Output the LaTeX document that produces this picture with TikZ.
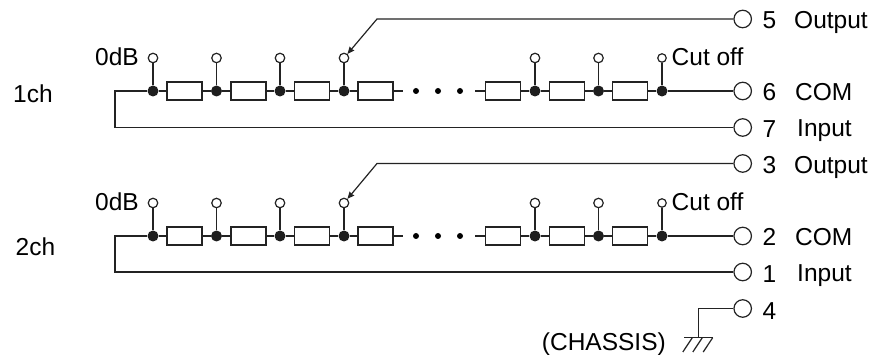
\documentclass[tikz,border=0pt]{standalone}
\usepackage{fontspec}
\setmainfont{Liberation Sans}
\usetikzlibrary{arrows.meta,calc}
\definecolor{wiregray}{RGB}{35,35,35}
\definecolor{jointdark}{RGB}{30,30,30}

\begin{document}
\begin{tikzpicture}[x=1pt, y=-1pt, >=Stealth,
    wire/.style={wiregray, line width=1.2pt},
    resbox/.style={draw=wiregray, line width=1.2pt, fill=white, rectangle, minimum width=35pt, minimum height=18pt, inner sep=0pt},
    joint/.style={circle, fill=jointdark, minimum size=11pt, inner sep=0pt},
    tapnode/.style={circle, draw=wiregray, line width=1.2pt, fill=white, minimum size=9.5pt, inner sep=0pt},
    endtap/.style={tapnode, minimum size=8.5pt},
    dotnode/.style={circle, fill=black, minimum size=6pt, inner sep=0pt},
    terminal/.style={circle, draw=wiregray, line width=1.2pt, fill=white, minimum size=17.5pt, inner sep=0pt},
    lbl/.style={anchor=base west, inner sep=0pt, font=\fontsize{24.5}{28}\selectfont}
]
    \useasboundingbox (0,0) rectangle (875,355);

    % Two channels, same ladder
    \foreach \ch/\yo/\yl/\yr/\no/\nc/\ni/\name/\namex/\namey in {a/19/91/127.5/5/6/7/1ch/13/102.7, b/163.5/236/272/3/2/1/2ch/15.5/256} {
        % Terminals
        \node[terminal] (out\ch) at (742.7,\yo) {};
        \node[terminal] (com\ch) at (742.7,\yl) {};
        \node[terminal] (in\ch) at (742.7,\yr) {};
        \coordinate (bend\ch) at (377,\yo);
        \coordinate (corner\ch) at (115,\yl);
        \coordinate (lower\ch) at (115,\yr);
        \coordinate (stubl\ch) at (403,\yl);
        \coordinate (stubr\ch) at (475,\yl);

        % Joints and taps
        \foreach \i/\x in {1/153, 2/216.5, 3/280, 4/344, 5/535, 6/598.5, 7/662} {
            \ifnum\i=7
                \node[endtap] (tap\ch\i) at (\x,\yl-33) {};
            \else
                \node[tapnode] (tap\ch\i) at (\x,\yl-33) {};
            \fi
            \node[joint] (j\ch\i) at (\x,\yl) {};
            \draw[wire] (j\ch\i) -- (tap\ch\i);
        }

        % Resistors
        \foreach \i/\x in {1/184.5, 2/248.5, 3/312, 4/375.5, 5/503, 6/567, 7/630} {
            \node[resbox] (r\ch\i) at (\x,\yl) {};
        }
        \foreach \i/\x in {1/416, 2/438, 3/460} {
            \node[dotnode] (dot\ch\i) at (\x,\yl) {};
        }

        % Wires
        \draw[wire] (j\ch1) -- (r\ch1) (r\ch1) -- (j\ch2) (j\ch2) -- (r\ch2) (r\ch2) -- (j\ch3) (j\ch3) -- (r\ch3) (r\ch3) -- (j\ch4) (j\ch4) -- (r\ch4);
        \draw[wire] (r\ch4) -- (stubl\ch);
        \draw[wire] (stubr\ch) -- (r\ch5);
        \draw[wire] (r\ch5) -- (j\ch5) (j\ch5) -- (r\ch6) (r\ch6) -- (j\ch6) (j\ch6) -- (r\ch7) (r\ch7) -- (j\ch7) (j\ch7) -- (com\ch);
        \draw[wire] (j\ch1) -- (corner\ch) -- (lower\ch) -- (in\ch);
        \draw[wire, -{Stealth[length=7pt,width=6pt,inset=0.5pt]}] (out\ch) -- (bend\ch) -- (tap\ch4);

        % Labels
        \node[lbl] (zero\ch) at (95,\yl-25.2) {0dB};
        \node[lbl] (cut\ch) at (671.5,\yl-25.2) {Cut off};
        \node[lbl] (chname\ch) at (\namex,\namey) {\name};
        \node[lbl] (nout\ch) at (762.5,\yo+10) {\no};
        \node[lbl] (ncom\ch) at (762.5,\yl+10) {\nc};
        \node[lbl] (nin\ch) at (762.5,\yr+10.5) {\ni};
        \node[lbl] (lout\ch) at (794,\yo+10) {Output};
        \node[lbl] (lcom\ch) at (795,\yl+9.5) {COM};
        \node[lbl] (lin\ch) at (797,\yr+9) {Input};
    }

    % Chassis
    \node[terminal] (chassis) at (742.7,308.5) {};
    \node[lbl] (nchassis) at (762.5,319) {4};
    \node[lbl] (lchassis) at (541.7,350) {(CHASSIS)};
    \coordinate (gndtop) at (698.7,308.5);
    \coordinate (gnd) at (698.7,337.7);
    \coordinate (gndl) at (684,337.7);
    \coordinate (gndr) at (712.7,337.7);
    \draw[wire] (chassis) -- (gndtop) -- (gnd);
    \draw[wire] (gndl) -- (gndr);
    \foreach \x in {692.3,702.3,712.7} {
        \draw[wire] (\x,337.7) -- (\x-9.5,352);
    }
\end{tikzpicture}
\end{document}
